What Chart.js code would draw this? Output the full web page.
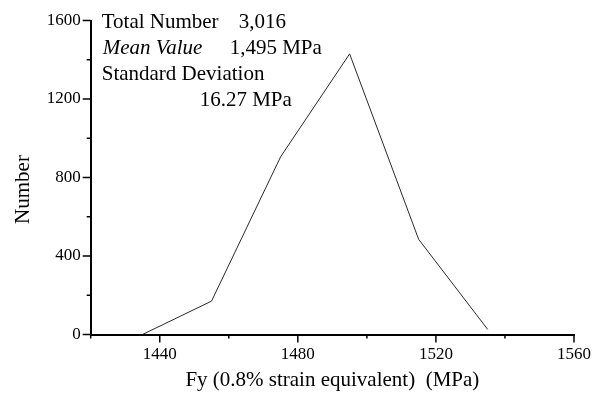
<!DOCTYPE html>
<html>
<head>
<meta charset="utf-8">
<script src="https://cdn.jsdelivr.net/npm/chart.js@4/dist/chart.umd.min.js"></script>
<style>
  html, body { margin: 0; padding: 0; background: #fff; }
  #wrap { width: 594px; height: 399px; }
</style>
</head>
<body>
<div id="wrap"><canvas id="c" width="594" height="399"></canvas></div>
<script>
// ---- data ----
const strengthMPa = [1435, 1455, 1475, 1495, 1515, 1535];
const counts      = [0, 170, 905, 1430, 485, 26];
const xTickLabels = [1440, 1480, 1520, 1560];
const yTickLabels = [0, 400, 800, 1200, 1600];
const xTitle = 'Fy (0.8% strain equivalent)  (MPa)';
const yTitle = 'Number';
const statLabels = ['Total Number', 'Mean Value', 'Standard Deviation'];
const statValues = ['3,016', '1,495 MPa', '16.27 MPa'];

const FONT = '"Liberation Serif", "Times New Roman", serif';

const ticksAndText = {
  id: 'ticksAndText',
  afterDraw(chart) {
    const ctx = chart.ctx;
    const xs = chart.scales.x, ys = chart.scales.y;
    const ca = chart.chartArea;
    ctx.save();
    ctx.strokeStyle = '#000';
    ctx.lineWidth = 1.5;
    // x ticks (downward)
    xs.ticks.forEach(t => {
      const px = xs.getPixelForValue(t.value);
      const len = xTickLabels.includes(t.value) ? 8 : 4;
      ctx.beginPath();
      ctx.moveTo(px, ca.bottom);
      ctx.lineTo(px, ca.bottom + len);
      ctx.stroke();
    });
    // y ticks (leftward)
    ys.ticks.forEach(t => {
      const py = ys.getPixelForValue(t.value);
      const len = yTickLabels.includes(t.value) ? 8 : 4;
      ctx.beginPath();
      ctx.moveTo(ca.left, py);
      ctx.lineTo(ca.left - len, py);
      ctx.stroke();
    });
    // y title
    ctx.fillStyle = '#000';
    ctx.font = '21px ' + FONT;
    ctx.textAlign = 'center';
    ctx.textBaseline = 'middle';
    ctx.translate(ca.left - 67, (ca.top + ca.bottom) / 2 + 12);
    ctx.rotate(-Math.PI / 2);
    ctx.fillText(yTitle, 0, 0);
    ctx.restore();

    // statistics annotation
    ctx.save();
    ctx.fillStyle = '#000';
    ctx.textAlign = 'left';
    ctx.textBaseline = 'middle';
    const x0 = ca.left + 11;
    const y0 = ca.top + 2;
    ctx.font = '21px ' + FONT;
    ctx.fillText(statLabels[0], x0, y0);
    ctx.fillText(statValues[0], x0 + 137, y0);
    ctx.font = 'italic 21px ' + FONT;
    ctx.fillText(statLabels[1], x0 + 1, y0 + 26);
    ctx.font = '21px ' + FONT;
    ctx.fillText(statValues[1], x0 + 128, y0 + 26);
    ctx.fillText(statLabels[2], x0, y0 + 52);
    ctx.fillText(statValues[2], x0 + 98, y0 + 78);
    ctx.restore();
  }
};

new Chart(document.getElementById('c'), {
  type: 'line',
  data: {
    datasets: [{
      data: strengthMPa.map((x, i) => ({ x: x, y: counts[i] })),
      borderColor: '#2a2a2a',
      borderWidth: 1,
      pointRadius: 0,
      tension: 0,
      fill: false
    }]
  },
  options: {
    responsive: false,
    animation: false,
    events: [],
    layout: { padding: { top: 20.5, right: 20, left: 0, bottom: 0 } },
    plugins: { legend: { display: false }, tooltip: { enabled: false } },
    scales: {
      x: {
        type: 'linear',
        min: 1420, max: 1560,
        afterFit(s) { s.height = 64.5; s.paddingRight = 0; s.paddingLeft = 0; },
        border: { color: '#000', width: 2 },
        grid: { display: false, drawTicks: false },
        ticks: {
          stepSize: 20,
          autoSkip: false,
          maxRotation: 0,
          padding: 10,
          color: '#000',
          font: { family: FONT, size: 17 },
          callback: v => xTickLabels.includes(v) ? String(v) : ''
        },
        title: {
          display: true,
          text: xTitle,
          color: '#000',
          font: { family: FONT, size: 21 },
          padding: { top: 0, bottom: 6 }
        }
      },
      y: {
        min: 0, max: 1600,
        afterFit(s) { s.width = 90.7; s.paddingTop = 0; s.paddingBottom = 0; },
        border: { color: '#000', width: 2 },
        grid: { display: false, drawTicks: false },
        ticks: {
          stepSize: 200,
          autoSkip: false,
          padding: 10,
          color: '#000',
          font: { family: FONT, size: 17 },
          callback: v => yTickLabels.includes(v) ? String(v) : ''
        }
      }
    }
  },
  plugins: [ticksAndText]
});
</script>
</body>
</html>
